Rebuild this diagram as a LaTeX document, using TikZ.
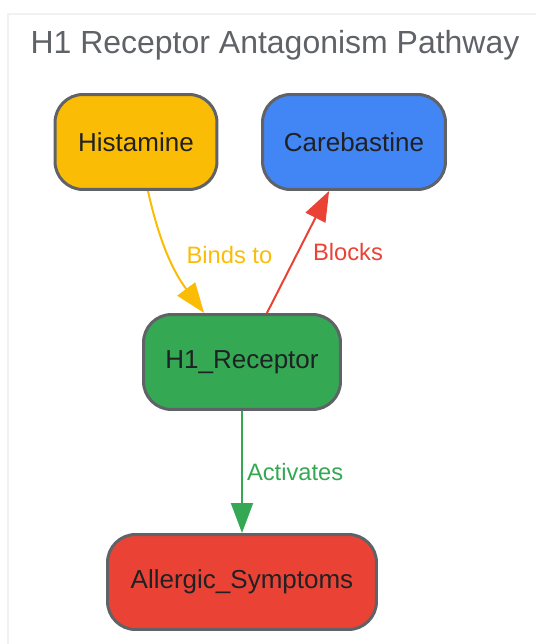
\documentclass[tikz,border=0pt]{standalone}
\usepackage{fontspec}
\setmainfont{Liberation Sans}
\usetikzlibrary{arrows.meta}
\definecolor{histcol}{HTML}{FBBC05}
\definecolor{carecol}{HTML}{4285F4}
\definecolor{recepcol}{HTML}{34A853}
\definecolor{allergcol}{HTML}{EA4335}
\definecolor{edgegray}{HTML}{5F6368}
\definecolor{txtdark}{HTML}{202124}
\definecolor{framegray}{HTML}{F1F1F1}
\tikzset{
  box/.style={draw=edgegray,line width=0.06cm,rounded corners=0.56cm,
    minimum height=1.9cm,text=txtdark,font=\fontsize{14.8}{17}\selectfont},
  lbl/.style={font=\fontsize{13.5}{16}\selectfont,inner sep=0.14cm}
}

\begin{document}
\begin{tikzpicture}[x=0.02cm,y=-0.02cm,>={Triangle[length=0.6cm,width=0.44cm]}]
    \useasboundingbox (0,0) rectangle (535,644);
    \draw[framegray,line width=0.04cm] (8,14) rectangle (560,670);
    \node[text=edgegray,font=\fontsize{18.2}{22}\selectfont] (title) at (275,45) {H1 Receptor Antagonism Pathway};
    \node[box,fill=histcol,minimum width=3.24cm] (hist) at (136,142) {Histamine};
    \node[box,fill=carecol,minimum width=3.66cm] (care) at (354,142) {Carebastine};
    \node[box,fill=recepcol,minimum width=3.94cm] (recep) at (242,362) {H1\_Receptor};
    \node[box,fill=allergcol,minimum width=5.38cm] (allerg) at (242,582) {Allergic\_Symptoms};
    \draw[->,histcol,line width=0.04cm] (hist) to[bend right=12] node[lbl,right,text=histcol,xshift=0.2cm] {Binds to} (recep);
    \draw[->,allergcol,line width=0.04cm] (recep) -- node[lbl,right,text=allergcol,xshift=0.14cm] {Blocks} (care);
    \draw[->,recepcol,line width=0.04cm] (recep) -- node[lbl,right,text=recepcol,inner sep=0.08cm] {Activates} (allerg);
  \end{tikzpicture}
\end{document}
